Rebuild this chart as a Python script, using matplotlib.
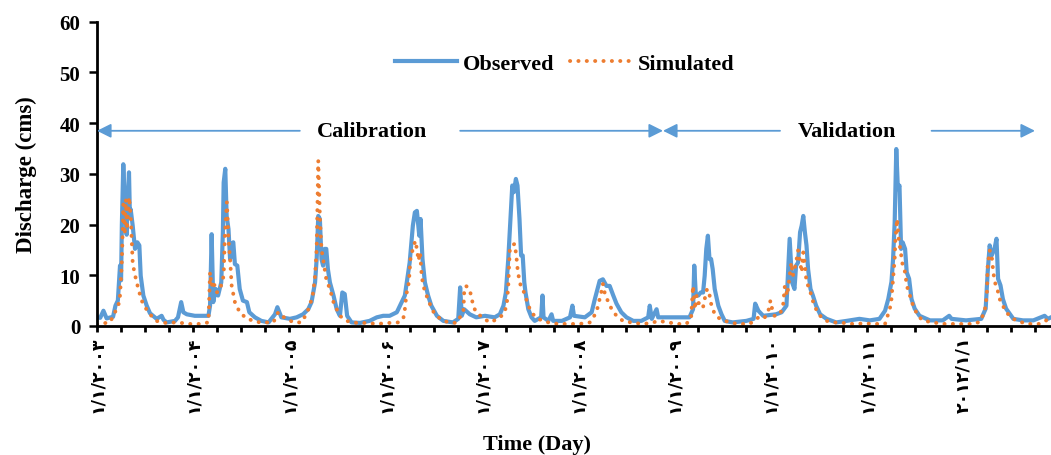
import numpy as np
import matplotlib
matplotlib.use("Agg")
import matplotlib.pyplot as plt

# --- data (x in months since 1 Jan 2003) ------------------------------------
obs_month = [0.0, 0.4, 0.8, 1.2, 2.0, 2.3, 2.6, 2.87, 3.0, 3.1, 3.28, 3.45, 3.55, 3.62, 3.7, 3.8,
             3.99, 4.1, 4.2, 4.45, 4.74, 5.03, 5.28, 5.45, 5.78, 6.2, 6.61, 7.44, 8.06, 8.3,
             8.69, 9.73, 10.1, 10.5, 10.77, 11.2, 12.2, 13.9, 14.1, 14.3, 14.5, 14.8, 15.1,
             15.5, 15.7, 15.8, 16.0, 16.17, 16.4, 16.6, 16.8, 17.0, 17.2, 17.5, 17.8, 18.2,
             18.7, 19.0, 19.7, 20.5, 21.4, 22.2, 22.5, 23.0, 24.06, 24.9, 25.7, 26.35, 26.76,
             27.2, 27.4, 27.6, 27.8, 28.0, 28.2, 28.4, 28.6, 28.8, 29.05, 29.5, 29.9, 30.3,
             30.6, 30.9, 31.2, 31.75, 32.8, 34.0, 34.9, 35.7, 36.5, 37.4, 37.8, 38.4, 39.0,
             39.4, 39.65, 39.9, 40.2, 40.36, 40.6, 40.9, 41.3, 41.7, 42.4, 43.2, 44.4, 45.06,
             45.3, 45.5, 45.8, 46.5, 47.3, 48.4, 49.6, 50.25, 50.7, 51.0, 51.3, 51.6, 51.8,
             52.0, 52.25, 52.45, 52.7, 52.9, 53.1, 53.3, 53.45, 53.8, 54.2, 54.6, 55.4, 55.57,
             55.7, 56.3, 56.7, 56.9, 58.0, 59.0, 59.3, 59.5, 60.85, 61.7, 62.1, 62.7, 63.1,
             63.55, 63.95, 64.4, 64.8, 65.4, 66.05, 66.9, 67.9, 68.75, 68.95, 69.2, 69.8, 70.0,
             71.7, 72.7, 73.9, 74.35, 74.5, 74.7, 75.0, 75.3, 75.6, 75.8, 76.0, 76.2, 76.4,
             76.6, 76.8, 77.05, 77.5, 77.9, 78.3, 79.3, 81.0, 81.9, 82.1, 82.5, 83.1, 84.7,
             85.4, 86.0, 86.4, 86.7, 87.0, 87.2, 87.45, 87.7, 87.9, 88.1, 88.3, 88.5, 88.7,
             89.0, 89.3, 89.7, 90.2, 91.0, 92.2, 93.5, 95.1, 96.4, 97.6, 98.3, 98.7, 99.1,
             99.3, 99.5, 99.7, 99.9, 100.1, 100.3, 100.5, 100.8, 101.0, 101.3, 101.6, 102.0,
             102.6, 103.9, 105.5, 106.3, 106.6, 108.4, 110.3, 110.85, 111.1, 111.35, 111.6,
             111.95, 112.2, 112.4, 112.7, 113.0, 113.4, 114.3, 115.5, 116.8, 118.2, 118.6, 119.0]
obs_q = [1.7, 1.6, 3.0, 1.5, 1.8, 4.0, 5.0, 11.9, 9.0, 20.0, 31.9, 25.0, 27.0, 21.0, 18.0, 24.0,
         30.3, 22.0, 23.0, 19.8, 15.2, 16.5, 15.9, 9.9, 6.0, 4.0, 2.5, 1.4, 2.0, 1.2,
         0.7, 1.0, 1.7, 4.7, 2.7, 2.3, 2.0, 2.0, 4.0, 18.1, 4.7, 7.3, 6.0,
         8.6, 18.5, 28.3, 31.0, 21.7, 19.1, 13.2, 16.2, 16.5, 12.2, 11.9, 7.3, 5.0,
         4.7, 2.7, 1.7, 1.0, 0.7, 2.3, 3.7, 1.7, 1.4, 1.7, 2.3, 3.3, 4.7,
         8.6, 13.2, 21.7, 21.1, 13.2, 11.9, 15.2, 15.2, 11.2, 8.6, 6.0, 3.3, 2.0,
         6.6, 6.3, 2.0, 0.7, 0.6, 1.0, 1.7, 2.0, 2.0, 2.7, 4.0, 6.0, 12.5,
         19.8, 22.4, 22.7, 17.8, 21.1, 13.2, 8.6, 6.0, 4.0, 2.0, 1.0, 0.7, 1.4,
         7.6, 2.0, 3.3, 2.3, 1.7, 2.0, 1.7, 2.3, 4.0, 6.6, 13.2, 21.7, 27.7,
         26.4, 29.0, 27.7, 21.1, 13.9, 13.9, 8.6, 6.6, 3.3, 1.7, 1.0, 1.7, 6.0,
         1.7, 1.0, 2.3, 1.0, 1.0, 1.7, 4.0, 2.0, 1.7, 2.7, 5.3, 8.9, 9.2,
         7.9, 7.9, 6.0, 4.4, 2.7, 1.7, 1.0, 1.0, 1.7, 4.0, 1.4, 3.3, 1.7,
         1.7, 1.7, 1.7, 3.3, 11.9, 6.0, 6.0, 6.6, 6.6, 9.9, 15.2, 17.8, 13.2,
         13.2, 11.2, 7.3, 4.0, 2.3, 1.0, 0.7, 1.0, 1.4, 4.4, 3.0, 2.0, 2.3,
         2.7, 4.0, 17.2, 8.6, 7.3, 11.9, 12.5, 18.5, 19.8, 21.7, 18.5, 15.9, 11.2,
         7.3, 6.0, 4.0, 2.3, 1.4, 0.7, 1.0, 1.4, 1.1, 1.4, 3.0, 5.3, 8.7,
         13.2, 20.4, 34.9, 27.0, 27.7, 15.2, 16.5, 15.2, 10.6, 9.3, 5.3, 3.4,
         2.0, 1.1, 1.1, 2.0, 1.4, 1.1, 1.4, 3.4, 10.6, 15.9, 13.9,
         15.2, 17.2, 9.3, 8.0, 5.3, 3.4, 1.4, 1.1, 1.1, 2.0, 1.4, 1.7]

sim_month = [0.0, 0.17, 1.62, 2.24, 2.66, 2.87, 3.08, 3.2, 3.28, 3.45, 3.6, 3.75, 4.0, 4.2, 4.32,
             4.45, 4.66, 4.95, 5.28, 5.57, 5.99, 6.6, 7.4, 8.3, 9.9, 11.6, 12.8, 13.9, 14.1,
             14.3, 14.5, 14.9, 15.3, 15.8, 15.96, 16.2, 16.4, 16.6, 16.8, 17.2, 17.8, 18.7,
             20.3, 22.0, 22.6, 23.0, 24.5, 25.5, 26.1, 26.55, 26.97, 27.2, 27.4, 27.6, 27.8,
             28.0, 28.2, 28.6, 29.05, 29.5, 29.9, 30.3, 31.1, 32.4, 33.6, 34.9, 36.5, 37.6,
             38.2, 38.4, 38.6, 38.9, 39.1, 39.4, 39.7, 39.9, 40.1, 40.3, 40.5, 40.7, 41.1,
             41.5, 42.0, 42.8, 43.8, 44.8, 45.7, 45.8, 46.0, 46.3, 46.7, 46.9, 47.3, 48.2,
             49.0, 50.0, 50.7, 51.1, 51.3, 51.4, 51.5, 51.8, 52.1, 52.3, 52.5, 52.75, 52.95,
             53.3, 53.6, 54.0, 54.4, 55.0, 56.3, 57.5, 58.8, 60.2, 61.5, 62.3, 62.6, 63.0,
             63.1, 63.4, 63.8, 64.2, 64.8, 65.6, 66.9, 68.1, 69.2, 70.0, 71.3, 72.3, 73.5,
             74.1, 74.35, 74.6, 74.8, 75.2, 75.6, 75.8, 76.1, 76.35, 76.6, 77.05, 77.7, 78.9,
             80.0, 81.4, 82.3, 82.7, 83.3, 83.8, 84.0, 84.1, 84.5, 85.2, 85.6, 85.8, 86.1,
             86.4, 86.6, 86.8, 87.0, 87.2, 87.45, 87.7, 87.9, 88.1, 88.3, 88.5, 88.9, 89.2,
             89.7, 90.2, 91.0, 92.0, 93.1, 94.3, 95.8, 97.0, 98.3, 98.9, 99.1, 99.3, 99.5,
             99.6, 99.8, 99.9, 100.0, 100.2, 100.5, 100.8, 101.0, 101.4, 101.8, 102.4, 103.0,
             103.9, 105.5, 107.6, 109.3, 110.1, 110.7, 111.0, 111.1, 111.35, 111.6, 111.8,
             112.0, 112.3, 112.6, 113.0, 113.4, 114.3, 115.1, 116.3, 117.6, 118.4, 119.0]
sim_q = [0.3, 0.4, 0.7, 2.7, 4.0, 6.0, 11.9, 18.5, 24.0, 18.0, 25.0, 19.0, 25.4, 21.7, 17.2,
         12.5, 10.6, 8.6, 6.6, 5.0, 3.7, 2.3, 1.0, 0.6, 0.7, 0.4, 0.4, 0.7, 10.6,
         7.9, 8.9, 6.6, 6.9, 9.9, 18.5, 24.4, 17.2, 13.2, 7.9, 4.7, 2.7, 1.4,
         0.7, 0.7, 2.7, 2.0, 0.7, 0.7, 2.3, 4.0, 6.6, 9.9, 15.2, 32.6, 21.7,
         15.2, 13.2, 9.2, 7.3, 4.7, 3.3, 2.0, 1.0, 0.6, 0.6, 0.4, 0.6, 0.7,
         1.4, 3.3, 6.3, 8.6, 13.2, 15.2, 16.8, 15.2, 12.9, 14.5, 9.9, 7.9, 6.0,
         4.4, 2.7, 1.4, 0.7, 0.6, 2.7, 6.6, 7.9, 7.6, 6.0, 4.0, 2.7, 1.5,
         0.7, 1.4, 2.3, 4.0, 7.9, 11.9, 15.2, 15.9, 16.2, 13.9, 10.6, 8.6, 7.3,
         6.6, 5.0, 3.3, 2.3, 1.4, 0.7, 0.4, 0.4, 0.4, 0.7, 2.7, 4.7, 7.3,
         8.3, 6.0, 4.7, 3.3, 2.0, 1.0, 0.6, 0.4, 0.6, 1.0, 0.7, 0.4, 0.4,
         1.4, 7.9, 3.3, 6.0, 3.7, 3.7, 5.3, 7.3, 6.6, 4.4, 2.3, 1.4, 0.7,
         0.4, 0.4, 1.4, 2.0, 1.7, 3.3, 5.0, 4.0, 2.0, 2.3, 4.4, 7.9, 6.0,
         9.9, 12.5, 9.9, 11.2, 12.5, 14.9, 12.5, 10.6, 14.5, 12.2, 8.6, 7.3, 5.3,
         3.3, 2.0, 1.0, 0.7, 0.6, 0.4, 0.5, 0.4, 0.4, 3.4, 5.3, 9.3, 13.2,
         17.2, 21.1, 19.1, 17.2, 15.2, 11.9, 10.6, 8.0, 6.0, 4.0, 2.0, 1.1,
         0.8, 0.4, 0.4, 0.4, 0.8, 2.7, 6.0, 11.9, 14.9, 13.9, 10.6,
         8.6, 7.3, 5.3, 4.0, 2.7, 1.4, 0.8, 0.4, 0.4, 1.1, 0.8]

year_labels = ["۱/۱/۲۰۰۳", "۱/۱/۲۰۰۴", "۱/۱/۲۰۰۵", "۱/۱/۲۰۰۶", "۱/۱/۲۰۰۷",
               "۱/۱/۲۰۰۸", "۱/۱/۲۰۰۹", "۱/۱/۲۰۱۰", "۱/۱/۲۰۱۱", "۲۰۱۲/۱/۱"]

blue = "#5B9BD5"
orange = "#ED7D31"
serif = "Liberation Serif"

fig = plt.figure(figsize=(10.51, 4.56), dpi=100)
ax = fig.add_axes([0.0923, 0.283, 0.9077, 0.667])

ax.plot(obs_month, obs_q, color=blue, lw=3.0, solid_joinstyle="round", label="Observed")
ax.plot(sim_month, sim_q, color=orange, lw=2.8, linestyle=(0, (0.05, 2.1)),
        dash_capstyle="round", label="Simulated")

ax.set_xlim(0, 119)
ax.set_ylim(0, 60)
ax.set_yticks(np.arange(0, 61, 10))
ax.set_xticks(np.arange(0, 120, 12))
ax.set_xticks(np.arange(0, 120, 3), minor=True)
ax.set_xticklabels(year_labels, rotation=90, family=["DejaVu Sans"], fontweight="bold",
                   fontsize=12.5)
for lab in ax.get_yticklabels():
    lab.set_fontfamily(serif)
    lab.set_fontweight("bold")
    lab.set_fontsize(15)
ax.tick_params(axis="x", which="both", direction="out", length=4, width=2, pad=3)
ax.tick_params(axis="y", direction="out", length=6, width=1.8, pad=6)
for s in ["top", "right"]:
    ax.spines[s].set_visible(False)
for s in ["left", "bottom"]:
    ax.spines[s].set_linewidth(2)

ax.set_ylabel("Discharge (cms)", fontfamily=serif, fontweight="bold", fontsize=16.5,
              labelpad=16)
ax.set_xlabel("Time (Day)", fontfamily=serif, fontweight="bold", fontsize=16)
ax.xaxis.set_label_coords(0.461, -0.356)

leg = ax.legend(loc="center", bbox_to_anchor=(0.49, 0.862), ncol=2, frameon=False,
                handlelength=2.8, columnspacing=0.7, handletextpad=0.25,
                prop={"family": serif, "weight": "bold", "size": 16})

# calibration / validation arrows
arrow_y = 38.5
head = dict(arrowstyle="-|>,head_length=0.7,head_width=0.35", color=blue, lw=1.3,
            shrinkA=0, shrinkB=0, mutation_scale=12)
segments = [(25.3, 0.0), (45.3, 70.6), (85.2, 70.6), (104.1, 117.0)]
for x0, x1 in segments:
    ax.annotate("", xy=(x1, arrow_y), xytext=(x0, arrow_y), arrowprops=head)
ax.text(34.3, arrow_y, "Calibration", ha="center", va="center", fontfamily=serif,
        fontweight="bold", fontsize=16)
ax.text(93.6, arrow_y, "Validation", ha="center", va="center", fontfamily=serif,
        fontweight="bold", fontsize=16)

fig.savefig("out.png", dpi=100)
